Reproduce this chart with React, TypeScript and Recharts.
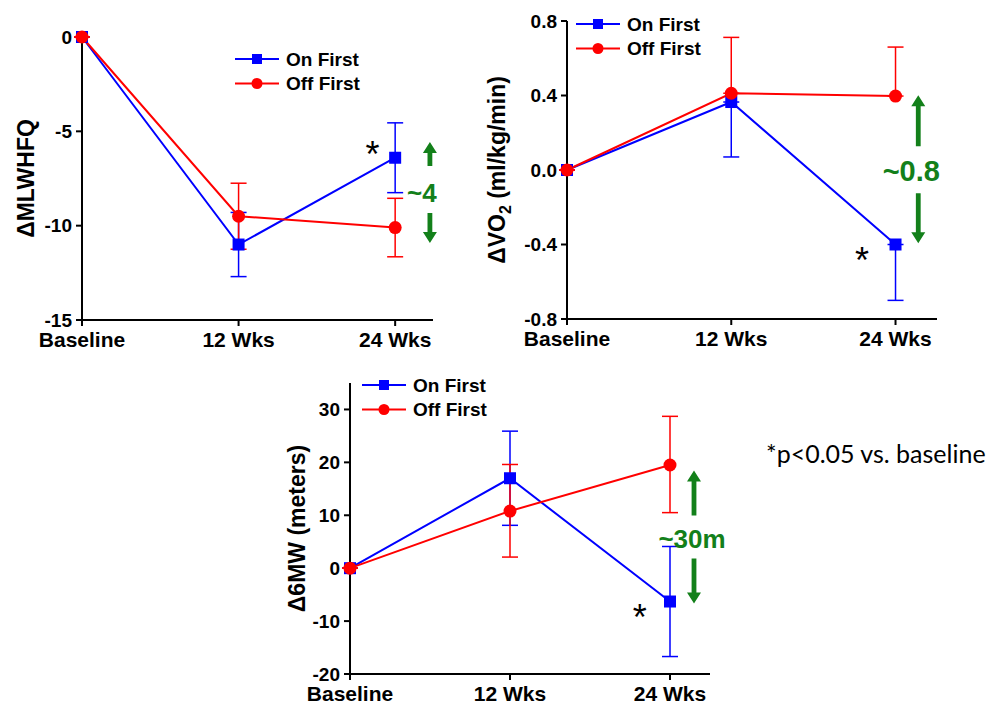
import React from 'react';
import { LineChart, Line, XAxis, YAxis, ErrorBar, Legend, ReferenceDot } from 'recharts';

const weeks = [0, 12, 24];
const weekLabels = ['Baseline', '12 Wks', '24 Wks'];

// ΔMLWHFQ
const mlwhfqOn = [0, -11, -6.4];
const mlwhfqOnErr = [[0, 0], [1.7, 1.7], [1.85, 1.85]];
const mlwhfqOff = [0, -9.5, -10.1];
const mlwhfqOffErr = [[0, 0], [1.75, 1.75], [1.55, 1.55]];

// ΔVO2 (one-sided bars in the original)
const vo2On = [0, 0.365, -0.4];
const vo2OnErr = [[0, 0], [0.295, 0], [0.3, 0]];
const vo2Off = [0, 0.412, 0.397];
const vo2OffErr = [[0, 0], [0, 0.3], [0, 0.263]];

// Δ6MW
const mwOn = [0, 17, -6.3];
const mwOnErr = [[0, 0], [8.9, 8.9], [10.4, 10.4]];
const mwOff = [0, 10.8, 19.5];
const mwOffErr = [[0, 0], [8.7, 8.8], [9, 9.2]];

const BLUE = '#0000ff';
const RED = '#ff0000';
const GREEN = '#13801a';
const FONT = '"Liberation Sans", Arial, sans-serif';

const SquareDot = (props: any) => {
  const { cx, cy, size = 12, fill } = props;
  if (cx == null || cy == null) return null;
  return <rect x={cx - size / 2} y={cy - size / 2} width={size} height={size} fill={fill} />;
};

const arrowPath = (x: number, y1: number, y2: number, up: boolean) => {
  const hw = 7, head = 11, sw = 2.4;
  if (up) {
    return `M${x},${y1} L${x + hw},${y1 + head} L${x + sw},${y1 + head} L${x + sw},${y2} L${x - sw},${y2} L${x - sw},${y1 + head} L${x - hw},${y1 + head} Z`;
  }
  return `M${x},${y2} L${x + hw},${y2 - head} L${x + sw},${y2 - head} L${x + sw},${y1} L${x - sw},${y1} L${x - sw},${y2 - head} L${x - hw},${y2 - head} Z`;
};

const DiffMark = (props: any) => {
  const { cx, cy, text, fs, dx, up, down } = props;
  if (cx == null || cy == null) return null;
  return (
    <g>
      <path d={arrowPath(cx + dx, cy + up[0], cy + up[1], true)} fill={GREEN} />
      <text x={cx} y={cy} textAnchor="middle" dominantBaseline="central" fontSize={fs} fontWeight={700} fontFamily={FONT} fill={GREEN}>
        {text}
      </text>
      <path d={arrowPath(cx + dx, cy + down[0], cy + down[1], false)} fill={GREEN} />
    </g>
  );
};

const Star = (props: any) => {
  const { cx, cy } = props;
  if (cx == null || cy == null) return null;
  const fs = 36;
  return (
    <text x={cx} y={cy + 0.58 * fs} textAnchor="middle" fontSize={fs} fontFamily={FONT} fill="#000">*</text>
  );
};

const LegendBox = () => (
  <svg width={190} height={50} style={{ overflow: 'visible' }}>
    <line x1={0} y1={12} x2={44} y2={12} stroke={BLUE} strokeWidth={2} />
    <rect x={17} y={7} width={10} height={10} fill={BLUE} />
    <text x={51} y={12} dominantBaseline="central" fontSize={19} fontWeight={700} fontFamily={FONT} fill="#000">On First</text>
    <line x1={0} y1={36.5} x2={44} y2={36.5} stroke={RED} strokeWidth={2} />
    <circle cx={22} cy={36.5} r={5.5} fill={RED} />
    <text x={51} y={36.5} dominantBaseline="central" fontSize={19} fontWeight={700} fontFamily={FONT} fill="#000">Off First</text>
  </svg>
);

type PanelProps = {
  left: number; top: number; width: number; height: number;
  margin: { top: number; right: number; bottom: number; left: number };
  yWidth: number; xHeight: number; xMax: number;
  yDomain: [number, number]; yTicks: number[]; yFmt: (v: number) => string;
  label: React.ReactNode; labelX: number;
  legendLeft: number; legendTop: number;
  on: number[]; onErr: number[][]; off: number[]; offErr: number[][];
  star: { x: number; y: number };
  diff: { x: number; y: number; text: string; fs: number; dx: number; up: number[]; down: number[] };
};

const Panel = (p: PanelProps) => {
  const rows = weeks.map((w, i) => ({ wk: w, on: p.on[i], onErr: p.onErr[i], off: p.off[i], offErr: p.offErr[i] }));
  const plotTop = p.margin.top;
  const plotBottom = p.height - p.margin.bottom - p.xHeight;
  const labelY = (plotTop + plotBottom) / 2;
  return (
    <div style={{ position: 'absolute', left: p.left, top: p.top }}>
      <LineChart width={p.width} height={p.height} data={rows} margin={p.margin}>
        <XAxis
          type="number"
          dataKey="wk"
          domain={[0, p.xMax]}
          ticks={weeks}
          interval={0}
          tickFormatter={(v: number) => weekLabels[weeks.indexOf(v)]}
          axisLine={{ stroke: '#000', strokeWidth: 2 }}
          tickLine={{ stroke: '#000', strokeWidth: 2 }}
          tickSize={6}
          tickMargin={6}
          height={p.xHeight}
          tick={{ fill: '#000', fontSize: 21, fontWeight: 700, fontFamily: FONT }}
        />
        <YAxis
          type="number"
          domain={p.yDomain}
          ticks={p.yTicks}
          interval={0}
          tickFormatter={p.yFmt}
          width={p.yWidth}
          axisLine={{ stroke: '#000', strokeWidth: 2 }}
          tickLine={{ stroke: '#000', strokeWidth: 2 }}
          tickSize={6}
          tickMargin={4}
          tick={{ fill: '#000', fontSize: 19, fontWeight: 700, fontFamily: FONT }}
          label={{
            content: () => (
              <text
                x={p.labelX}
                y={labelY}
                transform={`rotate(-90, ${p.labelX}, ${labelY})`}
                textAnchor="middle"
                dominantBaseline="central"
                fontSize={23}
                fontWeight={700}
                fontFamily={FONT}
                fill="#000"
              >
                {p.label}
              </text>
            ),
          }}
        />
        <Legend
          verticalAlign="middle"
          align="center"
          layout="horizontal"
          content={() => <LegendBox />}
          wrapperStyle={{ left: p.legendLeft, top: p.legendTop, width: 190, height: 50 }}
        />
        <Line dataKey="on" stroke={BLUE} strokeWidth={2} dot={<SquareDot fill={BLUE} size={12} />} isAnimationActive={false}>
          <ErrorBar dataKey="onErr" direction="y" width={8} strokeWidth={1.5} stroke={BLUE} />
        </Line>
        <Line dataKey="off" stroke={RED} strokeWidth={2} dot={{ r: 6.5, fill: RED, stroke: RED, strokeWidth: 0 }} isAnimationActive={false}>
          <ErrorBar dataKey="offErr" direction="y" width={8} strokeWidth={1.5} stroke={RED} />
        </Line>
        <ReferenceDot x={p.star.x} y={p.star.y} r={0} ifOverflow="visible" shape={(s: any) => <Star {...s} />} />
        <ReferenceDot
          x={p.diff.x}
          y={p.diff.y}
          r={0}
          ifOverflow="visible"
          shape={(s: any) => <DiffMark {...s} text={p.diff.text} fs={p.diff.fs} dx={p.diff.dx} up={p.diff.up} down={p.diff.down} />}
        />
      </LineChart>
    </div>
  );
};

export default function App() {
  return (
    <div style={{ position: 'absolute', left: 0, top: 0, width: 1003, height: 707, background: '#fff', overflow: 'hidden' }}>
      <Panel
        left={0} top={0} width={450} height={354}
        margin={{ top: 37, right: 17, bottom: 0, left: 10 }}
        yWidth={72} xHeight={34} xMax={26.9}
        yDomain={[-15, 0]} yTicks={[-15, -10, -5, 0]} yFmt={(v) => String(v)}
        label="ΔMLWHFQ" labelX={26}
        legendLeft={235} legendTop={47}
        on={mlwhfqOn} onErr={mlwhfqOnErr} off={mlwhfqOff} offErr={mlwhfqOffErr}
        star={{ x: 22.26, y: -5.8 }}
        diff={{ x: 26.05, y: -8.29, text: '~4', fs: 26, dx: 8, up: [-51.5, -27.5], down: [19.5, 49.5] }}
      />
      <Panel
        left={480} top={0} width={480} height={354}
        margin={{ top: 21, right: 23, bottom: 0, left: 10 }}
        yWidth={77} xHeight={35} xMax={27.03}
        yDomain={[-0.8, 0.8]} yTicks={[-0.8, -0.4, 0, 0.4, 0.8]} yFmt={(v) => v.toFixed(1)}
        label={<>ΔVO<tspan baselineShift="sub" fontSize={16}>2</tspan> (ml/kg/min)</>} labelX={17}
        legendLeft={96} legendTop={12}
        on={vo2On} onErr={vo2OnErr} off={vo2Off} offErr={vo2OffErr}
        star={{ x: 21.56, y: -0.44 }}
        diff={{ x: 25.15, y: -0.007, text: '~0.8', fs: 29, dx: 7, up: [-76, -25], down: [22, 72] }}
      />
      <Panel
        left={270} top={370} width={480} height={337}
        margin={{ top: 13, right: 40, bottom: 0, left: 10 }}
        yWidth={70} xHeight={33} xMax={27}
        yDomain={[-20, 35]} yTicks={[-20, -10, 0, 10, 20, 30]} yFmt={(v) => String(v)}
        label="Δ6MW (meters)" labelX={26.7}
        legendLeft={92} legendTop={3}
        on={mwOn} onErr={mwOnErr} off={mwOff} offErr={mwOffErr}
        star={{ x: 21.73, y: -7.8 }}
        diff={{ x: 25.65, y: 5.6, text: '~30m', fs: 26, dx: 2, up: [-68, -23], down: [20, 65] }}
      />
      <div style={{ position: 'absolute', left: 766, top: 440, fontFamily: 'Lato, "Open Sans", sans-serif', fontSize: 25, lineHeight: '26px', color: '#000', whiteSpace: 'nowrap' }}>
        *p&lt;0.05 vs. baseline
      </div>
    </div>
  );
}
